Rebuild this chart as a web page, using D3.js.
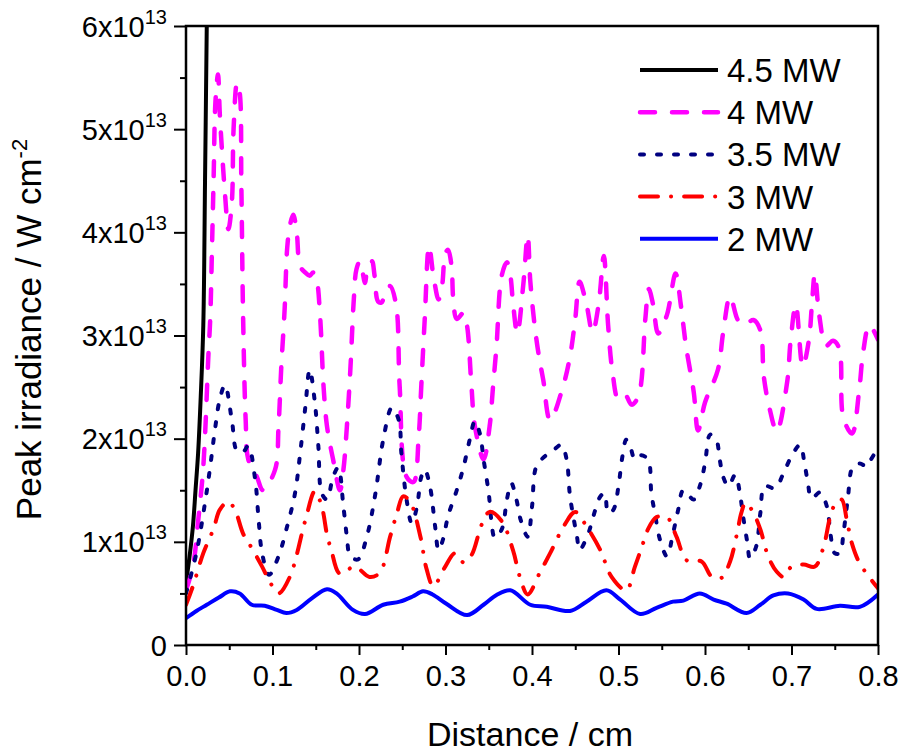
<!DOCTYPE html>
<html>
<head>
<meta charset="utf-8">
<script src="https://cdn.jsdelivr.net/npm/d3@7"></script>
<style>
  body { margin: 0; background: #fff; }
  text { font-family: Arial, "Liberation Sans", sans-serif; fill: #000; }
</style>
</head>
<body>
<div id="my_dataviz"></div>
<script>
// ticks
const xTicks = [0, 0.1, 0.2, 0.3, 0.4, 0.5, 0.6, 0.7, 0.8];
const xMinor = [0.05, 0.15, 0.25, 0.35, 0.45, 0.55, 0.65, 0.75];
const yTicks = [0, 1, 2, 3, 4, 5, 6];          // x10^13
const yMinor = [0.5, 1.5, 2.5, 3.5, 4.5, 5.5];

const seriesNames = ["4.5 MW", "4 MW", "3.5 MW", "3 MW", "2 MW"];

// [distance (cm), peak irradiance (x10^13 W cm^-2)]
const irr45 = [[0,0.6],[0.004,0.85],[0.008,1.15],[0.011,1.5],[0.014,1.86],[0.017,2.4],[0.020,3.1],[0.022,4.5],[0.024,6.0],[0.025,6.8]];

const irr4 = [[0,0.53],[0.008,0.76],[0.014,1.2],[0.020,1.73],[0.026,2.83],[0.028,3.16],[0.030,3.83],[0.032,4.55],[0.034,5.26],[0.037,5.53],[0.039,5.16],[0.042,4.74],[0.045,4.38],[0.049,4.03],[0.053,4.29],[0.055,5.0],[0.059,5.45],[0.062,5.36],[0.064,4.45],[0.066,3.19],[0.069,2.18],[0.072,1.80],[0.082,1.63],[0.089,1.50],[0.103,1.70],[0.107,2.12],[0.110,2.67],[0.114,3.25],[0.117,3.85],[0.120,4.06],[0.124,4.17],[0.128,4.00],[0.132,3.67],[0.138,3.61],[0.143,3.58],[0.147,3.61],[0.151,3.54],[0.155,3.19],[0.159,2.51],[0.163,2.12],[0.170,1.80],[0.178,1.50],[0.182,1.70],[0.186,2.12],[0.190,2.67],[0.194,3.35],[0.197,3.64],[0.201,3.72],[0.207,3.51],[0.209,3.61],[0.215,3.72],[0.218,3.58],[0.222,3.33],[0.226,3.32],[0.232,3.46],[0.236,3.48],[0.243,3.29],[0.247,2.51],[0.255,1.63],[0.263,1.58],[0.269,2.02],[0.272,2.51],[0.276,3.16],[0.281,3.87],[0.286,3.58],[0.292,3.35],[0.296,3.48],[0.300,3.80],[0.303,3.83],[0.307,3.67],[0.309,3.35],[0.313,3.16],[0.321,3.22],[0.325,3.09],[0.330,2.51],[0.334,2.12],[0.344,1.80],[0.351,2.12],[0.355,2.51],[0.359,2.90],[0.365,3.58],[0.371,3.71],[0.375,3.58],[0.378,3.32],[0.383,3.02],[0.390,3.5],[0.395,3.97],[0.398,3.53],[0.403,3.10],[0.408,2.8],[0.413,2.57],[0.421,2.18],[0.436,2.51],[0.444,2.80],[0.450,3.16],[0.455,3.52],[0.463,3.30],[0.470,3.03],[0.477,3.3],[0.483,3.77],[0.488,3.1],[0.493,2.65],[0.500,2.38],[0.508,2.42],[0.515,2.33],[0.523,2.41],[0.531,3.16],[0.535,3.45],[0.540,3.30],[0.546,3.02],[0.556,3.2],[0.566,3.6],[0.572,3.3],[0.578,2.9],[0.587,2.45],[0.592,2.08],[0.600,2.35],[0.615,2.67],[0.621,3.03],[0.629,3.38],[0.638,3.15],[0.645,3.1],[0.656,3.15],[0.664,3.05],[0.668,2.6],[0.675,2.28],[0.683,2.07],[0.695,2.55],[0.699,2.95],[0.705,3.3],[0.713,2.7],[0.720,2.95],[0.724,3.35],[0.727,3.6],[0.732,3.2],[0.740,2.9],[0.748,2.95],[0.755,2.88],[0.760,2.2],[0.770,2.05],[0.778,2.45],[0.783,2.85],[0.790,3.1],[0.8,2.96]];

const irr35 = [[0,0.50],[0.012,0.89],[0.022,1.38],[0.028,1.73],[0.034,2.12],[0.039,2.38],[0.045,2.52],[0.053,2.18],[0.059,1.88],[0.066,1.87],[0.072,1.93],[0.080,1.60],[0.084,1.21],[0.088,0.89],[0.096,0.68],[0.107,0.86],[0.116,1.12],[0.126,1.47],[0.132,1.86],[0.138,2.31],[0.143,2.67],[0.149,2.35],[0.153,1.93],[0.157,1.47],[0.163,1.41],[0.170,1.63],[0.176,1.72],[0.182,1.34],[0.186,1.05],[0.190,0.86],[0.199,0.83],[0.209,1.05],[0.219,1.47],[0.228,1.99],[0.238,2.30],[0.246,2.18],[0.249,1.86],[0.255,1.41],[0.261,1.18],[0.267,1.34],[0.272,1.63],[0.276,1.70],[0.282,1.54],[0.288,1.15],[0.292,0.92],[0.297,1.02],[0.303,1.25],[0.313,1.50],[0.321,1.73],[0.328,1.99],[0.334,2.17],[0.340,2.04],[0.344,1.80],[0.350,1.47],[0.353,1.21],[0.357,1.04],[0.365,1.12],[0.371,1.41],[0.376,1.57],[0.382,1.41],[0.387,1.21],[0.395,1.05],[0.400,1.34],[0.405,1.73],[0.415,1.83],[0.425,1.89],[0.434,1.94],[0.440,1.80],[0.444,1.44],[0.452,1.05],[0.455,0.92],[0.465,1.08],[0.471,1.25],[0.479,1.44],[0.484,1.47],[0.488,1.28],[0.494,1.31],[0.500,1.54],[0.504,1.80],[0.509,1.99],[0.513,1.94],[0.519,1.80],[0.525,1.84],[0.534,1.80],[0.538,1.47],[0.542,1.28],[0.548,1.02],[0.556,0.86],[0.563,1.08],[0.569,1.31],[0.575,1.50],[0.587,1.41],[0.594,1.54],[0.600,1.76],[0.606,2.04],[0.613,1.99],[0.617,1.80],[0.621,1.63],[0.627,1.54],[0.635,1.65],[0.640,1.49],[0.644,1.25],[0.649,0.99],[0.652,0.84],[0.659,0.95],[0.664,1.28],[0.669,1.54],[0.681,1.52],[0.691,1.67],[0.700,1.83],[0.710,1.94],[0.715,1.76],[0.719,1.57],[0.723,1.42],[0.733,1.48],[0.741,1.34],[0.745,1.08],[0.750,0.89],[0.756,0.89],[0.760,1.08],[0.765,1.41],[0.771,1.73],[0.779,1.76],[0.787,1.73],[0.792,1.80],[0.8,1.91]];

const irr3 = [[0,0.39],[0.008,0.57],[0.020,0.89],[0.032,1.13],[0.039,1.31],[0.049,1.39],[0.057,1.30],[0.066,1.08],[0.076,0.94],[0.088,0.76],[0.097,0.61],[0.107,0.50],[0.120,0.66],[0.138,1.21],[0.149,1.49],[0.157,1.34],[0.163,1.07],[0.168,0.92],[0.178,0.69],[0.195,0.76],[0.212,0.66],[0.224,0.70],[0.236,1.05],[0.244,1.28],[0.251,1.44],[0.259,1.39],[0.271,1.05],[0.278,0.74],[0.286,0.57],[0.299,0.75],[0.311,0.89],[0.321,0.80],[0.330,0.87],[0.342,1.17],[0.351,1.29],[0.365,1.20],[0.378,0.92],[0.386,0.66],[0.395,0.49],[0.409,0.70],[0.421,0.89],[0.438,1.17],[0.450,1.29],[0.463,1.15],[0.479,0.92],[0.492,0.66],[0.509,0.53],[0.519,0.76],[0.527,0.95],[0.534,1.12],[0.544,1.24],[0.556,1.24],[0.567,1.05],[0.579,0.82],[0.596,0.81],[0.608,0.66],[0.619,0.65],[0.629,0.81],[0.637,1.08],[0.642,1.28],[0.647,1.38],[0.656,1.28],[0.664,1.12],[0.673,0.86],[0.683,0.71],[0.691,0.66],[0.700,0.76],[0.714,0.78],[0.727,0.76],[0.737,0.95],[0.745,1.25],[0.752,1.39],[0.758,1.41],[0.764,1.21],[0.770,0.98],[0.779,0.79],[0.8,0.55]];

const irr2 = [[0,0.26],[0.012,0.33],[0.024,0.39],[0.038,0.46],[0.051,0.52],[0.062,0.50],[0.076,0.39],[0.091,0.38],[0.105,0.34],[0.116,0.31],[0.128,0.34],[0.145,0.45],[0.163,0.54],[0.174,0.50],[0.193,0.34],[0.207,0.30],[0.228,0.39],[0.247,0.42],[0.262,0.47],[0.274,0.52],[0.285,0.49],[0.301,0.40],[0.325,0.29],[0.344,0.39],[0.359,0.485],[0.375,0.53],[0.398,0.39],[0.417,0.37],[0.444,0.33],[0.463,0.42],[0.486,0.53],[0.502,0.44],[0.525,0.30],[0.544,0.36],[0.563,0.42],[0.575,0.43],[0.594,0.50],[0.610,0.44],[0.625,0.40],[0.648,0.31],[0.664,0.39],[0.679,0.48],[0.696,0.50],[0.714,0.44],[0.729,0.35],[0.756,0.38],[0.779,0.37],[0.8,0.49]];

const seriesData = [irr45, irr4, irr35, irr3, irr2];
const seriesStyle = [
  {color: "#000000", width: 4,   dash: null},
  {color: "#FF00FF", width: 4.5, dash: "15,17"},
  {color: "#000080", width: 4,   dash: "4,13"},
  {color: "#FF0000", width: 4,   dash: "18,13,0.1,13"},
  {color: "#0000FF", width: 4,   dash: null}
];

// set the dimensions and margins of the graph
const margin = {top: 26, right: 25, bottom: 109, left: 186},
    width = 903 - margin.left - margin.right,
    height = 754 - margin.top - margin.bottom;

const svg = d3.select("#my_dataviz")
  .append("svg")
    .attr("width", 903)
    .attr("height", 754)
  .append("g")
    .attr("transform", `translate(${margin.left},${margin.top})`);

const x = d3.scaleLinear().domain([0, 0.8]).range([0, width]);
const y = d3.scaleLinear().domain([0, 6]).range([height, 0]);

svg.append("clipPath").attr("id", "clip")
  .append("rect").attr("width", width).attr("height", height);

// lines
const line = d3.line()
  .x(d => x(d[0]))
  .y(d => y(d[1]))
  .curve(d3.curveCatmullRom.alpha(0.5));

seriesData.forEach((data, i) => {
  const s = seriesStyle[i];
  svg.append("path")
    .datum(data)
    .attr("clip-path", "url(#clip)")
    .attr("fill", "none")
    .attr("stroke", s.color)
    .attr("stroke-width", s.width)
    .attr("stroke-linecap", s.dash ? "round" : "butt")
    .attr("stroke-linejoin", "round")
    .attr("stroke-dasharray", s.dash)
    .attr("d", line);
});

// X axis
const xAxis = svg.append("g")
  .attr("transform", `translate(0, ${height})`)
  .call(d3.axisBottom(x).tickValues(xTicks).tickSize(10).tickPadding(10).tickFormat(d3.format(".1f")));
svg.append("g")
  .attr("transform", `translate(0, ${height})`)
  .call(d3.axisBottom(x).tickValues(xMinor).tickSize(5).tickFormat(""));

// Y axis
const yAxis = svg.append("g")
  .call(d3.axisLeft(y).tickValues(yTicks).tickSize(12).tickPadding(7).tickFormat(""));
svg.append("g")
  .call(d3.axisLeft(y).tickValues(yMinor).tickSize(6).tickFormat(""));

svg.selectAll(".domain").attr("stroke", "none");
svg.selectAll(".tick line").attr("stroke", "#000").attr("stroke-width", 2);
xAxis.selectAll("text").style("font-size", "29px").attr("font-family", null);

yAxis.selectAll(".tick").each(function(d) {
  const t = d3.select(this).append("text")
    .attr("x", -19)
    .attr("y", 10)
    .attr("text-anchor", "end")
    .style("font-size", "29px");
  if (d === 0) {
    t.text("0");
  } else {
    t.append("tspan").text(d + "x10");
    t.append("tspan").attr("dy", -13).style("font-size", "20px").text("13");
  }
});

// frame
svg.append("rect")
  .attr("width", width)
  .attr("height", height)
  .attr("fill", "none")
  .attr("stroke", "#000")
  .attr("stroke-width", 2.5);

// axis labels
svg.append("text")
  .attr("text-anchor", "middle")
  .attr("x", width / 2 - 2)
  .attr("y", height + 101)
  .style("font-size", "34px")
  .text("Distance / cm");

const yl = svg.append("text")
  .attr("text-anchor", "middle")
  .attr("transform", `translate(${-145}, ${height / 2 - 6}) rotate(-90)`)
  .style("font-size", "35px");
yl.append("tspan").text("Peak irradiance / W cm");
yl.append("tspan").attr("dy", -14).style("font-size", "22px").text("-2");

// legend
const legend = svg.append("g").attr("transform", `translate(${640 - margin.left}, ${70 - margin.top})`);
seriesNames.forEach((name, i) => {
  const s = seriesStyle[i];
  const row = legend.append("g").attr("transform", `translate(0, ${i * 42.2})`);
  row.append("line")
    .attr("x1", 0).attr("x2", 78)
    .attr("stroke", s.color)
    .attr("stroke-width", s.width)
    .attr("stroke-linecap", s.dash ? "round" : "butt")
    .attr("stroke-dasharray", s.dash);
  row.append("text")
    .attr("x", 87)
    .attr("y", 12)
    .style("font-size", "33px")
    .text(name);
});
</script>
</body>
</html>
